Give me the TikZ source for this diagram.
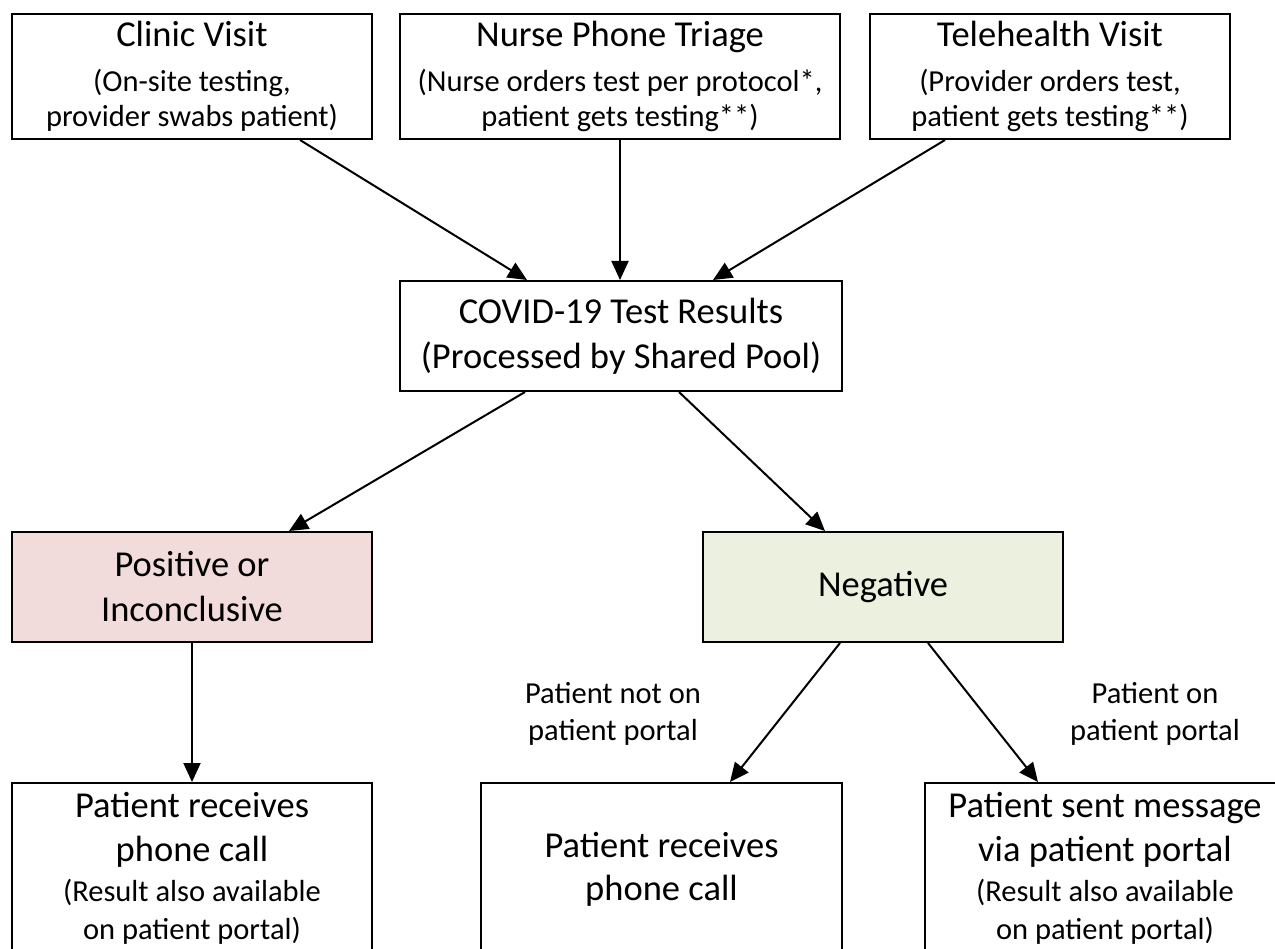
\documentclass[tikz,border=0pt]{standalone}
\usepackage{fontspec}
\setmainfont{Carlito}
\usetikzlibrary{arrows.meta}
\definecolor{posfill}{HTML}{F2DCDB}
\definecolor{negfill}{HTML}{EBF1DE}
\newcommand\ttlfont{\fontsize{36.5}{44}\selectfont}
\tikzset{
  box/.style={draw=black, line width=2pt, inner sep=0pt, align=center, fill=white},
  topbox/.style={box, minimum width=360pt, minimum height=125pt, font=\fontsize{30.5}{35.5}\selectfont},
  arr/.style={line width=2pt, -{Triangle[length=19pt,width=17pt]}},
  lbl/.style={align=center, inner sep=0pt, font=\fontsize{30.5}{37}\selectfont},
}
\begin{document}
\begin{tikzpicture}[x=1pt,y=-1pt]
\useasboundingbox (0,0) rectangle (1275,949);
\clip (0,0) rectangle (1275,949);

% top row
\node[topbox] (clinic) at (192,76.5) {{\ttlfont Clinic Visit}\\[9.5pt](On-site testing,\\provider swabs patient)};
\node[topbox, minimum width=440pt] (nurse) at (620,76.5) {{\ttlfont Nurse Phone Triage}\\[9.5pt](Nurse orders test per protocol*,\\patient gets testing**)};
\node[topbox] (tele) at (1050,76.5) {{\ttlfont Telehealth Visit}\\[9.5pt](Provider orders test,\\patient gets testing**)};

% results
\node[box, minimum width=442pt, minimum height=110pt, font=\fontsize{36.5}{45}\selectfont] (covid) at (621,336) {COVID-19 Test Results\\(Processed by Shared Pool)};

% outcome
\node[box, fill=posfill, minimum width=360pt, minimum height=110pt, font=\fontsize{36.5}{45}\selectfont] (pos) at (192,587) {Positive or\\Inconclusive};
\node[box, fill=negfill, minimum width=360pt, minimum height=110pt, font=\fontsize{36.5}{45}\selectfont] (neg) at (883,587) {Negative};

% bottom row
\node[box, minimum width=360pt, minimum height=170pt, font=\fontsize{30.5}{38}\selectfont] (bl) at (192,868) {{\ttlfont Patient receives}\\[6pt]{\ttlfont phone call}\\[2pt](Result also available\\on patient portal)};
\node[box, minimum width=361pt, minimum height=172pt, font=\fontsize{36.5}{43}\selectfont] (bm) at (661.5,869) {Patient receives\\phone call};
\node[box, minimum width=360pt, minimum height=170pt, font=\fontsize{30.5}{38}\selectfont] (br) at (1105,868) {{\ttlfont Patient sent message}\\[6pt]{\ttlfont via patient portal}\\[2pt](Result also available\\on patient portal)};

% labels
\node[lbl] (lnot) at (613,714) {Patient not on\\patient portal};
\node[lbl] (lon) at (1155,714) {Patient on\\patient portal};

% connectors
\draw[arr] ([xshift=108pt]clinic.south) -- ([xshift=-94pt]covid.north);
\draw[arr] (nurse.south) -- (nurse.south |- covid.north);
\draw[arr] ([xshift=-105pt]tele.south) -- ([xshift=92pt]covid.north);
\draw[arr] ([xshift=-96pt]covid.south) -- ([xshift=97pt]pos.north);
\draw[arr] ([xshift=58pt]covid.south) -- ([xshift=-58pt]neg.north);
\draw[arr] (pos.south) -- (bl.north);
\draw[arr] ([xshift=-43pt]neg.south) -- ([xshift=68.5pt]bm.north);
\draw[arr] ([xshift=45pt]neg.south) -- ([xshift=-67pt]br.north);
\end{tikzpicture}
\end{document}
